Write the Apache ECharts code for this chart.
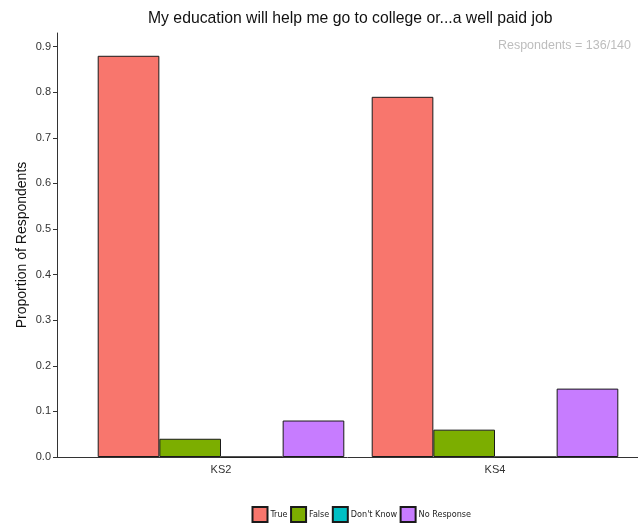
<!DOCTYPE html>
<html>
<head>
<meta charset="utf-8">
<script src="https://cdn.jsdelivr.net/npm/echarts@6/dist/echarts.min.js"></script>
<style>
html,body{margin:0;padding:0;background:#fff;}
#main{width:638px;height:526px;}
</style>
</head>
<body>
<div id="main"></div>
<script>
var categories = ['KS2', 'KS4'];
var seriesNames = ['True', 'False', "Don't Know", 'No Response'];
var trueVals = [0.88, 0.79];
var falseVals = [0.04, 0.06];
var dontKnowVals = [0, 0];
var noResponseVals = [0.08, 0.15];
var yTicks = [0, 0.1, 0.2, 0.3, 0.4, 0.5, 0.6, 0.7, 0.8, 0.9];
var colors = ['#F8766D', '#7CAE00', '#00BFC4', '#C77CFF'];
var titleText = 'My education will help me go to college or...a well paid job';
var noteText = 'Respondents = 136/140';

var font = 'Liberation Sans, Arial, sans-serif';
var narrowFont = 'DejaVu Sans Condensed, Liberation Sans, sans-serif';
var yMax = 0.93;
var allVals = [trueVals, falseVals, dontKnowVals, noResponseVals];

var chart = echarts.init(document.getElementById('main'), null, {renderer: 'canvas'});
var gridTop = 33, gridBottom = 69;

var series = seriesNames.map(function (name, i) {
  return {
    name: name,
    type: 'bar',
    xAxisIndex: 0,
    yAxisIndex: 0,
    data: allVals[i],
    barGap: '0%',
    barCategoryGap: '10%',
    itemStyle: {color: colors[i], borderColor: '#1a1a1a', borderWidth: 1},
    emphasis: {disabled: true}
  };
});

chart.setOption({
  animation: false,
  backgroundColor: '#ffffff',
  title: [
    {text: titleText, left: 143, top: 6,
     textStyle: {fontFamily: font, fontSize: 15.75, fontWeight: 'normal', color: '#111'}},
    {text: noteText, right: 2, top: 34,
     textStyle: {fontFamily: font, fontSize: 12.5, fontWeight: 'normal', color: '#bdbdbd'}}
  ],
  legend: {
    data: seriesNames,
    bottom: 3,
    left: 251.5,
    padding: 0,
    itemWidth: 15,
    itemHeight: 15,
    itemGap: 2.5,
    icon: 'rect',
    textStyle: {fontFamily: narrowFont, fontSize: 9, color: '#222', padding: [0, 0, 0, -2]},
    selectedMode: false
  },
  grid: [
    {left: 84, width: 548, top: gridTop, bottom: gridBottom},
    {left: 57, right: 0, top: gridTop, bottom: gridBottom}
  ],
  xAxis: [
    {type: 'category', gridIndex: 0, data: categories,
     axisLine: {show: false}, axisTick: {show: false},
     axisLabel: {fontFamily: font, fontSize: 11, color: '#333', margin: 7}},
    {type: 'value', gridIndex: 1, min: 0, max: 1,
     axisLine: {show: true, onZero: false, lineStyle: {color: '#333', width: 1}},
     axisTick: {show: false}, axisLabel: {show: false}, splitLine: {show: false}}
  ],
  yAxis: [
    {type: 'value', gridIndex: 0, min: 0, max: yMax, show: false, splitLine: {show: false}},
    {type: 'value', gridIndex: 1, min: 0, max: yMax,
     name: 'Proportion of Respondents', nameLocation: 'middle', nameGap: 28,
     nameMoveOverlap: false,
     nameTextStyle: {fontFamily: font, fontSize: 14, color: '#111'},
     axisLine: {show: true, lineStyle: {color: '#333', width: 1}},
     axisTick: {show: true, length: 4, customValues: yTicks, lineStyle: {color: '#333'}},
     axisLabel: {customValues: yTicks, fontFamily: font, fontSize: 11, color: '#333', margin: 6,
                 formatter: function (v) { return v.toFixed(1); }},
     splitLine: {show: false}}
  ],
  series: series
});
</script>
</body>
</html>
